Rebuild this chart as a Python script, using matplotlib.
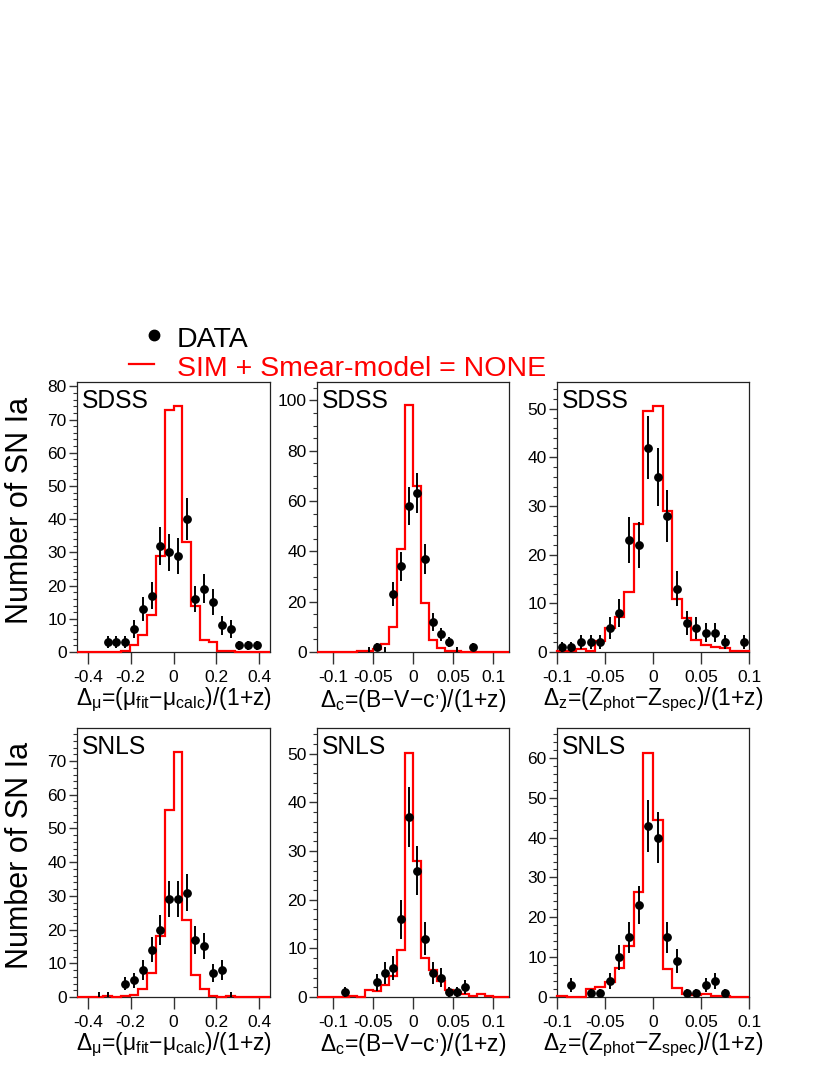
import numpy as np
import matplotlib
matplotlib.use('Agg')
import matplotlib.pyplot as plt
import matplotlib.transforms as mtransforms
from matplotlib.lines import Line2D
from matplotlib.ticker import MultipleLocator, FuncFormatter

plt.rcParams['font.family'] = ['Liberation Sans', 'DejaVu Sans']
plt.rcParams['mathtext.fontset'] = 'custom'
plt.rcParams['mathtext.rm'] = 'Liberation Sans'
plt.rcParams['mathtext.it'] = 'Liberation Sans'
plt.rcParams['mathtext.default'] = 'regular'
plt.rcParams['axes.unicode_minus'] = False

# binning (lo, hi, nbins)
bins_mu = (-0.45, 0.45, 22)
bins_c = (-0.12, 0.12, 24)
bins_z = (-0.10, 0.10, 20)

# SDSS
sdss_mu_data = [0, 0, 0, 3, 3, 3, 7, 13, 17, 32, 30, 29, 40, 16, 19, 15, 8, 7, 2, 2, 2, 0]
sdss_mu_sim = [0, 0, 0, 0, 0, 0.4, 2, 5, 11, 29, 73, 74, 33, 14, 3.7, 2.9, 0.4, 0.4, 0, 0, 0, 0]
sdss_c_data = [0, 0, 0, 0, 0, 0, 0, 2, 0, 23, 34, 58, 63, 37, 12, 7, 4, 0, 0, 2, 0, 0, 0, 0]
sdss_c_sim = [0, 0, 0, 0, 0, 0.4, 0.4, 1, 3, 10, 41, 98, 66, 19.5, 4.6, 1.7, 0.4, 0.3, 0, 0, 0, 0, 0, 0]
sdss_z_data = [1, 1, 2, 2, 2, 5, 8, 23, 22, 42, 36, 28, 13, 6, 5, 4, 4, 2, 0, 2]
sdss_z_sim = [0.3, 0.3, 0.6, 0.3, 2.3, 4.9, 7.2, 12.3, 26.4, 49.5, 50.5, 28.9, 10.8, 6.9, 2.5, 1.4, 1.1, 0.9, 0.3, 0.3]

# SNLS
snls_mu_data = [0, 0, 0, 0, 0, 4, 5, 8, 14, 20, 29, 29, 31, 17, 15, 7, 8, 0, 0, 0, 0, 0]
snls_mu_sim = [0, 0, 0, 0.2, 0, 0.4, 0.6, 2.4, 7.1, 18.2, 55.4, 72.7, 22.9, 6.6, 2.4, 0.4, 0.1, 0.2, 0, 0, 0, 0]
snls_c_data = [0, 0, 0, 1, 0, 0, 0, 3, 5, 6, 16, 37, 26, 12, 5, 4, 1, 1, 2, 0, 0, 0, 0, 0]
snls_c_sim = [0, 0, 0, 0, 0.3, 0.1, 1.4, 1.2, 2.5, 4.4, 9.6, 50.2, 28, 8.1, 5.5, 3.3, 1.4, 1.1, 0.6, 0.2, 0.6, 0.2, 0, 0]
snls_z_data = [0, 3, 0, 1, 1, 4, 10, 15, 23, 43, 40, 15, 9, 1, 1, 3, 4, 1, 0, 0]
snls_z_sim = [0.35, 0, 0.1, 2.0, 2.5, 3.8, 7.4, 12.7, 26.4, 61.3, 44.5, 7.1, 2.2, 0.8, 0.5, 0.7, 0.3, 0.3, 0, 0]

# empty data bins that still show a small tick
sdss_c_empty = [6, 8, 17]
snls_mu_empty = [2, 3, 17]

xlabels = [r'$\Delta_{\mu}$=($\mu_{fit}$$-$$\mu_{calc}$)/(1+z)',
           r'$\Delta_{c}$=(B$-$V$-$c$^{,}$)/(1+z)',
           r'$\Delta_{z}$=($Z_{phot}$$-$$Z_{spec}$)/(1+z)']
xticks_mu = [-0.4, -0.2, 0, 0.2, 0.4]
xticks_cz = [-0.1, -0.05, 0, 0.05, 0.1]

panels = [
    # survey, bins, data, sim, empty, ymax, major, minor, xticks
    ('SDSS', bins_mu, sdss_mu_data, sdss_mu_sim, [], 81.3, 10, 2, xticks_mu),
    ('SDSS', bins_c, sdss_c_data, sdss_c_sim, sdss_c_empty, 107.3, 20, 5, xticks_cz),
    ('SDSS', bins_z, sdss_z_data, sdss_z_sim, [], 55.5, 10, 2, xticks_cz),
    ('SNLS', bins_mu, snls_mu_data, snls_mu_sim, snls_mu_empty, 79.8, 10, 2, xticks_mu),
    ('SNLS', bins_c, snls_c_data, snls_c_sim, [], 55.3, 10, 2, xticks_cz),
    ('SNLS', bins_z, snls_z_data, snls_z_sim, [], 67.5, 10, 2, xticks_cz),
]

W, H = 830, 1075
fig = plt.figure(figsize=(W / 100, H / 100), dpi=100)

cols = [(77, 270), (317, 509), (557, 749)]
rows = [(382, 652), (728, 997)]

fmt = FuncFormatter(lambda v, p: '%g' % round(v, 6))

for i, (survey, bn, data, sim, empty, ymax, major, minor, xt) in enumerate(panels):
    r, c = divmod(i, 3)
    x0, x1 = cols[c]
    y0, y1 = rows[r]
    ax = fig.add_axes([x0 / W, (H - y1) / H, (x1 - x0) / W, (y1 - y0) / H])
    lo, hi, n = bn
    edges = np.linspace(lo, hi, n + 1)
    centers = 0.5 * (edges[:-1] + edges[1:])
    data = np.array(data, dtype=float)
    sim = np.array(sim, dtype=float)

    ax.stairs(sim, edges, color='red', lw=1.6, baseline=0, clip_on=False, zorder=3)
    m = data > 0
    ax.errorbar(centers[m], data[m], yerr=np.sqrt(data[m]), fmt='o', color='black',
                ms=5.3, elinewidth=1.4, capsize=0, zorder=4)
    if empty:
        trans = mtransforms.blended_transform_factory(ax.transData, ax.transAxes)
        ax.vlines(centers[empty], 0, 5.0 / (y1 - y0), color='black', lw=1.4,
                  transform=trans, zorder=4)

    ax.set_xlim(lo, hi)
    ax.set_ylim(0, ymax)
    ax.set_xticks(xt)
    ax.xaxis.set_major_formatter(fmt)
    ax.yaxis.set_major_locator(MultipleLocator(major))
    ax.yaxis.set_minor_locator(MultipleLocator(minor))
    ax.tick_params(axis='x', direction='out', length=8.6, width=1, color='#333333',
                   labelsize=12.5, pad=4.5)
    ax.tick_params(axis='y', which='major', direction='out', length=5.8, width=1,
                   color='#333333', labelsize=12.5, pad=1.5)
    ax.tick_params(axis='y', which='minor', direction='out', length=2.9, width=0.8,
                   color='#333333')
    for s in ax.spines.values():
        s.set_linewidth(0.9)
        s.set_color('#222222')

    ax.text(0.024, 0.975, survey, transform=ax.transAxes, fontsize=17.7,
            ha='left', va='top', zorder=5)
    ax.text(0.5, -0.178, xlabels[c], transform=ax.transAxes, fontsize=16.5,
            ha='center', va='center')
    if c == 0:
        ax.text(-0.295, 0.526, 'Number of SN Ia', transform=ax.transAxes,
                fontsize=22, rotation=90, ha='center', va='center')

# legend
fig.add_artist(Line2D([154 / W], [(H - 335) / H], marker='o', ms=7.5, color='black',
                      transform=fig.transFigure))
fig.add_artist(Line2D([129 / W, 154 / W], [(H - 364) / H, (H - 364) / H], color='red',
                      lw=1.6, transform=fig.transFigure))
fig.text(177 / W, (H - 347) / H, 'DATA', fontsize=20.5, color='black', va='baseline')
fig.text(177 / W, (H - 376) / H, 'SIM + Smear-model = NONE', fontsize=20.5,
         color='red', va='baseline')

fig.savefig('out.png', dpi=100)
